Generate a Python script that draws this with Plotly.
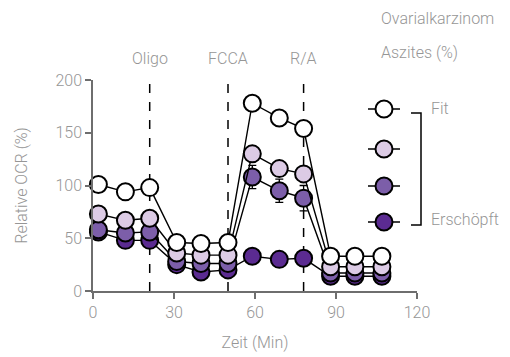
import plotly.graph_objects as go

# Seahorse measurement times (min)
zeit = [2, 12, 21, 31, 40, 50, 59, 69, 78, 88, 97, 107]

# Relative OCR (%) per ascites group, from fit to exhausted
ocr_fit = [101, 94, 98, 46, 45, 46, 178, 164, 154, 33, 33, 33]
ocr_g2 = [73, 67, 69, 36, 34, 34, 130, 116, 111, 23, 23, 23]
ocr_g3 = [58, 55, 56, 28, 26, 26, 108, 95, 88, 17, 17, 17]
ocr_ersch = [56, 48, 48, 25, 18, 20, 33, 30, 31, 14, 14, 14]

sem_fit = [0, 0, 0, 0, 0, 0, 0, 0, 0, 0, 0, 0]
sem_g2 = [2, 2, 2, 2, 2, 2, 5, 4, 4, 1, 1, 1]
sem_g3 = [2, 2, 2, 2, 2, 2, 11, 11, 12, 1, 1, 1]
sem_ersch = [2, 2, 2, 2, 2, 2, 2, 2, 2, 1, 1, 1]

injektionen = ["Oligo", "FCCA", "R/A"]
injektion_zeit = [21, 50, 78]

gruppen = ["Fit", "", "", "Erschöpft"]
farben = ["#ffffff", "#dccbe5", "#7c5ea9", "#5b2b91"]

serien = [ocr_fit, ocr_g2, ocr_g3, ocr_ersch]
fehler = [sem_fit, sem_g2, sem_g3, sem_ersch]

GRAU = "#969696"
FONT = dict(family="Roboto", size=16, color=GRAU, weight=300)

W, H = 510, 357
# plot area in screen pixels
PX0, PX1, PY0, PY1 = 93, 417, 80, 291

fig = go.Figure()

# draw exhausted group first so the fit group sits on top
for werte, sem, farbe in reversed(list(zip(serien, fehler, farben))):
    fig.add_trace(go.Scatter(
        x=zeit, y=werte, mode="lines+markers",
        line=dict(color="black", width=1.4),
        marker=dict(size=17, color=farbe, line=dict(color="black", width=2)),
        error_y=dict(type="data", array=sem, color="black", thickness=1.3, width=4),
        cliponaxis=False, showlegend=False,
    ))

# injection markers
for name, t in zip(injektionen, injektion_zeit):
    fig.add_shape(type="line", xref="x", yref="y", x0=t, x1=t, y0=0, y1=198,
                  line=dict(color="black", width=1.5, dash="dash"), layer="below")
    fig.add_annotation(x=t, y=1, xref="x", yref="y domain", yanchor="bottom",
                       yshift=10, text=name, showarrow=False, font=FONT)

# legend block drawn on a full-figure helper axis in pixel units
leg_y = [109, 149, 186, 222]
for yy in leg_y:
    fig.add_trace(go.Scatter(
        x=[368, 400], y=[yy, yy], xaxis="x2", yaxis="y2", mode="lines",
        line=dict(color="black", width=1.5),
        cliponaxis=False, showlegend=False, hoverinfo="skip",
    ))
fig.add_trace(go.Scatter(
    x=[384] * len(leg_y), y=leg_y, xaxis="x2", yaxis="y2", mode="markers",
    marker=dict(size=17, color=farben, line=dict(color="black", width=2)),
    cliponaxis=False, showlegend=False, hoverinfo="skip",
))
fig.add_shape(type="path", xref="x2", yref="y2",
              path=f"M 411 {leg_y[0]+4} L 421 {leg_y[0]+4} L 421 {leg_y[-1]+3} L 411 {leg_y[-1]+3}",
              line=dict(color="black", width=1.5))
fig.add_annotation(x=429, y=leg_y[0] - 1, xref="x2", yref="y2", xanchor="left",
                   text=gruppen[0], showarrow=False, font=FONT)
fig.add_annotation(x=429, y=leg_y[-1] - 3, xref="x2", yref="y2", xanchor="left",
                   text=gruppen[-1], showarrow=False, font=FONT)
fig.add_annotation(x=437, y=18, xref="x2", yref="y2", text="Ovarialkarzinom",
                   showarrow=False, font=FONT)
fig.add_annotation(x=419, y=52, xref="x2", yref="y2", text="Aszites (%)",
                   showarrow=False, font=FONT)

achse = dict(showgrid=False, zeroline=False, showline=True, linecolor="#6e6e6e",
             linewidth=1.5, ticks="outside", ticklen=6, tickcolor="#6e6e6e",
             tickwidth=1.5, tickfont=FONT, automargin=False)

fig.update_layout(
    width=W, height=H,
    margin=dict(l=0, r=0, t=0, b=0),
    paper_bgcolor="white", plot_bgcolor="rgba(0,0,0,0)",
    font=FONT,
    xaxis=dict(range=[0, 120], tickvals=[0, 30, 60, 90, 120],
               domain=[PX0 / W, PX1 / W], anchor="y",
               title=dict(text="Zeit (Min)", font=FONT, standoff=16), **achse),
    yaxis=dict(range=[0, 200], tickvals=[0, 50, 100, 150, 200],
               domain=[(H - PY1) / H, (H - PY0) / H], anchor="x",
               title=dict(text="Relative OCR (%)", font=FONT, standoff=24), **achse),
    xaxis2=dict(domain=[0, 1], range=[0, W], visible=False, anchor="y2",
                fixedrange=True),
    yaxis2=dict(domain=[0, 1], range=[H, 0], visible=False, anchor="x2",
                fixedrange=True),
)

fig.write_html("out.html")
